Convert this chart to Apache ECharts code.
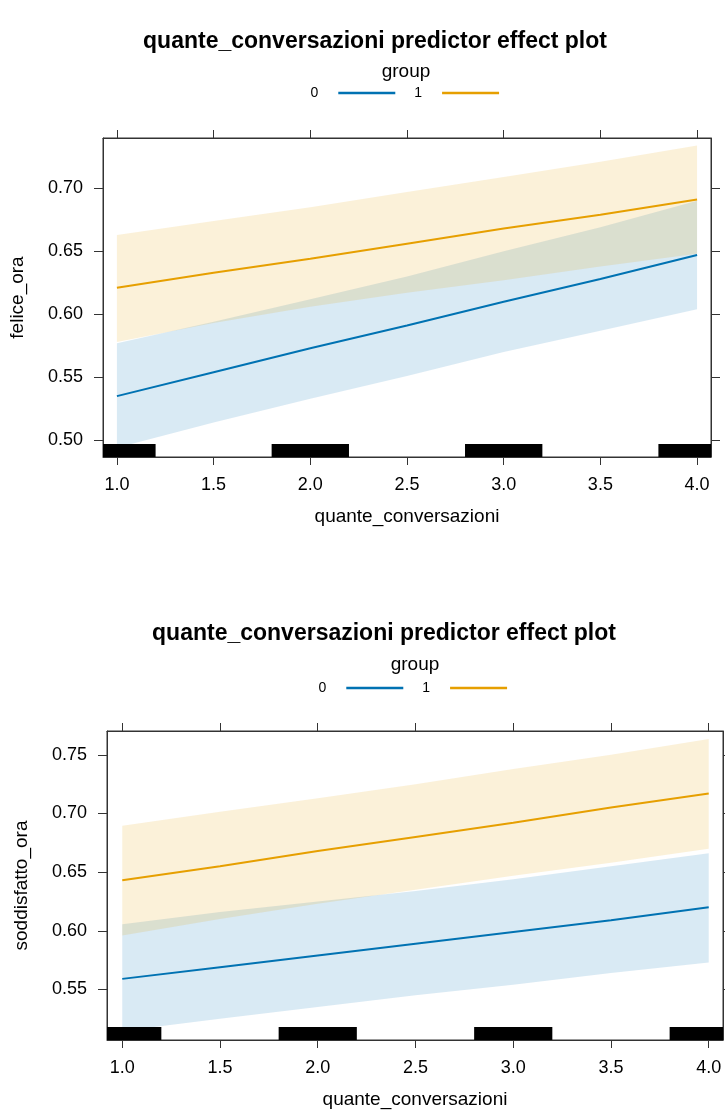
<!DOCTYPE html>
<html>
<head>
<meta charset="utf-8">
<script src="https://cdn.jsdelivr.net/npm/echarts@6/dist/echarts.min.js"></script>
<style>
html,body{margin:0;padding:0;background:#fff}
#chart{width:725px;height:1110px}
</style>
</head>
<body>
<div id="chart"></div>
<script>
// ---------- data ----------
const chartTitle = 'quante_conversazioni predictor effect plot';
const xName = 'quante_conversazioni';
const legendTitle = 'group';
const groupNames = ['0', '1'];

const xValues = [1, 1.5, 2, 2.5, 3, 3.5, 4];
const xTicks = [1, 1.5, 2, 2.5, 3, 3.5, 4];
const rugCenters = [1, 2, 3, 4];
const rugHalfWidth = 0.2;

// panel 1 : felice_ora
const p1YName = 'felice_ora';
const p1YTicks = [0.50, 0.55, 0.60, 0.65, 0.70];
const p1Fit0   = [0.535, 0.554, 0.573, 0.591, 0.610, 0.628, 0.647];
const p1Lower0 = [0.494, 0.514, 0.533, 0.551, 0.570, 0.587, 0.604];
const p1Upper0 = [0.577, 0.594, 0.612, 0.630, 0.650, 0.669, 0.690];
const p1Fit1   = [0.621, 0.633, 0.644, 0.656, 0.668, 0.679, 0.691];
const p1Lower1 = [0.578, 0.593, 0.606, 0.617, 0.627, 0.638, 0.648];
const p1Upper1 = [0.663, 0.674, 0.685, 0.697, 0.709, 0.721, 0.734];

// panel 2 : soddisfatto_ora
const p2YName = 'soddisfatto_ora';
const p2YTicks = [0.55, 0.60, 0.65, 0.70, 0.75];
const p2Fit0   = [0.559, 0.569, 0.579, 0.589, 0.599, 0.609, 0.620];
const p2Lower0 = [0.5145, 0.525, 0.535, 0.545, 0.554, 0.564, 0.573];
const p2Upper0 = [0.6056, 0.616, 0.625, 0.634, 0.644, 0.655, 0.666];
const p2Fit1   = [0.643, 0.655, 0.668, 0.680, 0.692, 0.705, 0.717];
const p2Lower1 = [0.596, 0.610, 0.623, 0.635, 0.647, 0.658, 0.670];
const p2Upper1 = [0.6895, 0.7015, 0.713, 0.725, 0.738, 0.750, 0.7635];

// ---------- styling ----------
const FONT = '"Liberation Sans", Arial, Helvetica, sans-serif';
const COLORS = ['#0072B2', '#E69F00'];
const AXIS_COLOR = '#333';

const panels = [
  { grid: {left: 101, top: 138, width: 610, height: 319},
    xRange: [0.928, 4.072], yRange: [0.4867, 0.7399],
    yName: p1YName, yTicks: p1YTicks,
    fit: [p1Fit0, p1Fit1], lower: [p1Lower0, p1Lower1], upper: [p1Upper0, p1Upper1],
    titleX: 375, titleY: 42, groupX: 406, groupY: 72, legendLeft: 310.5, legendY: 93 },
  { grid: {left: 107, top: 731, width: 616, height: 311},
    xRange: [0.922, 4.073], yRange: [0.5069, 0.7703],
    yName: p2YName, yTicks: p2YTicks,
    fit: [p2Fit0, p2Fit1], lower: [p2Lower0, p2Lower1], upper: [p2Upper0, p2Upper1],
    titleX: 384, titleY: 634, groupX: 415, groupY: 665, legendLeft: 318.5, legendY: 688 }
];

const grids = [], xAxes = [], yAxes = [], series = [], titles = [], legends = [];

panels.forEach((p, gi) => {
  grids.push(Object.assign({show: true, borderColor: AXIS_COLOR, borderWidth: 1, backgroundColor: '#fff'}, p.grid));
  const axisCommon = {
    gridIndex: gi, type: 'value',
    axisLine: {show: true, onZero: false, lineStyle: {color: AXIS_COLOR, width: 1}},
    splitLine: {show: false},
  };
  ['bottom', 'top'].forEach(pos => {
    xAxes.push(Object.assign({}, axisCommon, {
      position: pos, min: p.xRange[0], max: p.xRange[1],
      name: pos === 'bottom' ? xName : '', nameLocation: 'middle', nameGap: 50,
      nameTextStyle: {fontFamily: FONT, fontSize: 19, color: '#000'},
      axisTick: {show: true, length: 8, lineStyle: {color: AXIS_COLOR}, customValues: xTicks},
      axisLabel: {show: pos === 'bottom', customValues: xTicks, margin: 19,
        fontFamily: FONT, fontSize: 18, color: '#000', formatter: v => Number(v).toFixed(1)}
    }));
  });
  ['left', 'right'].forEach(pos => {
    yAxes.push(Object.assign({}, axisCommon, {
      position: pos, min: p.yRange[0], max: p.yRange[1],
      name: pos === 'left' ? p.yName : '', nameLocation: 'middle', nameGap: 76,
      nameTextStyle: {fontFamily: FONT, fontSize: 19, color: '#000'},
      axisTick: {show: true, length: 9, lineStyle: {color: AXIS_COLOR}, customValues: p.yTicks},
      axisLabel: {show: pos === 'left', customValues: p.yTicks, margin: 20,
        fontFamily: FONT, fontSize: 18, color: '#000', formatter: v => Number(v).toFixed(2)}
    }));
  });
  const xi = gi * 2, yi = gi * 2;
  // confidence bands
  [0, 1].forEach(k => {
    const up = p.upper[k], lo = p.lower[k], col = COLORS[k];
    series.push({
      type: 'custom', name: 'band' + k, xAxisIndex: xi, yAxisIndex: yi, silent: true, clip: true, z: 1 + k,
      data: xValues.map((x, i) => [x, lo[i], up[i]]),
      renderItem: (params, api) => {
        if (params.dataIndex !== 0) return null;
        const pts = [];
        for (let i = 0; i < xValues.length; i++) pts.push(api.coord([xValues[i], up[i]]));
        for (let i = xValues.length - 1; i >= 0; i--) pts.push(api.coord([xValues[i], lo[i]]));
        return {type: 'polygon', shape: {points: pts}, style: {fill: col, opacity: 0.15}};
      }
    });
  });
  // fitted lines
  [0, 1].forEach(k => {
    series.push({
      type: 'line', name: groupNames[k], xAxisIndex: xi, yAxisIndex: yi, z: 5,
      data: xValues.map((x, i) => [x, p.fit[k][i]]),
      symbol: 'none', silent: true, animation: false,
      itemStyle: {color: COLORS[k]},
      lineStyle: {color: COLORS[k], width: 2}
    });
  });
  // rug
  series.push({
    type: 'custom', name: 'rug', xAxisIndex: xi, yAxisIndex: yi, silent: true, clip: true, z: 8,
    data: rugCenters.map(c => [c]),
    renderItem: (params, api) => {
      const c = api.value(0);
      const cs = params.coordSys;
      const x0 = api.coord([c - rugHalfWidth, p.yRange[0]])[0];
      const x1 = api.coord([c + rugHalfWidth, p.yRange[0]])[0];
      const bottom = cs.y + cs.height;
      const rect = echarts.graphic.clipRectByRect(
        {x: x0, y: bottom - 13, width: x1 - x0, height: 13},
        {x: cs.x, y: cs.y, width: cs.width, height: cs.height});
      if (!rect) return null;
      return {type: 'rect', shape: rect, style: {fill: '#000'}};
    }
  });
  titles.push({text: chartTitle, left: p.titleX, top: p.titleY - 13.5, textAlign: 'center', padding: 0,
    textStyle: {fontFamily: FONT, fontSize: 23, fontWeight: 'bold', color: '#000', lineHeight: 27}});
  titles.push({text: legendTitle, left: p.groupX, top: p.groupY - 11, textAlign: 'center', padding: 0,
    textStyle: {fontFamily: FONT, fontSize: 19, fontWeight: 'normal', color: '#000', lineHeight: 22}});
  legends.push({
    data: groupNames, left: p.legendLeft, top: p.legendY - 7, orient: 'horizontal', align: 'right',
    icon: 'rect', itemWidth: 57, itemHeight: 2.5, itemGap: 19, padding: 0, selectedMode: false,
    textStyle: {fontFamily: FONT, fontSize: 14, color: '#000', padding: [0, 15, 0, 0]}
  });
});

const chart = echarts.init(document.getElementById('chart'), null, {renderer: 'canvas'});
chart.setOption({
  animation: false,
  backgroundColor: '#fff',
  title: titles,
  legend: legends,
  grid: grids,
  xAxis: xAxes,
  yAxis: yAxes,
  series: series
});
</script>
</body>
</html>
